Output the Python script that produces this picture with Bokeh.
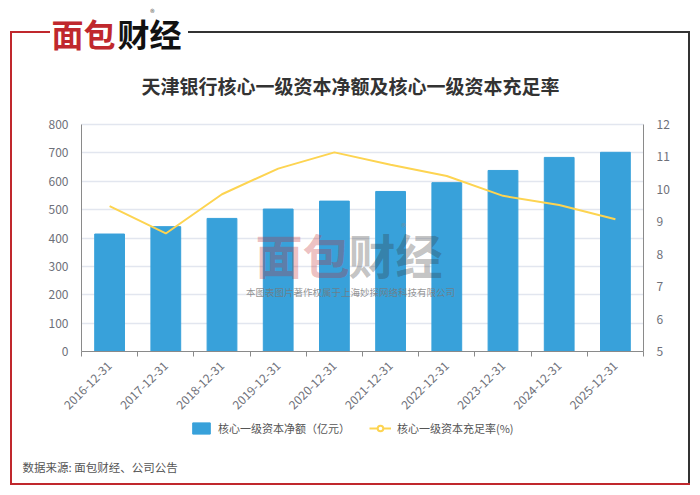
import math
from bokeh.plotting import figure
from bokeh.models import (ColumnDataSource, Range1d, LinearAxis, Label,
                          Legend, LegendItem, SingleIntervalTicker, FixedTicker)
from bokeh.embed import file_html
from bokeh.resources import INLINE

# ---------------- data ----------------
dates = ["2016-12-31", "2017-12-31", "2018-12-31", "2019-12-31", "2020-12-31",
         "2021-12-31", "2022-12-31", "2023-12-31", "2024-12-31", "2025-12-31"]
capital = [414, 440, 469, 502, 530, 564, 595, 638, 684, 702]          # 亿元
ratio = [9.48, 8.64, 9.85, 10.64, 11.14, 10.76, 10.41, 9.80, 9.52, 9.08]  # %
cap_ticks = list(range(0, 801, 100))

title_text = "天津银行核心一级资本净额及核心一级资本充足率"
bar_label = "核心一级资本净额（亿元）"
line_label = "核心一级资本充足率(%)"
source_text = "数据来源: 面包财经、公司公告"
wm_text = "本图表图片著作权属于上海妙探网络科技有限公司"

FONT = "Noto Sans CJK SC"
BAR = "#38a1da"
LINE = "#fdd451"
RED = "#c0282d"
DARK = "#333333"
AX = "#8a8a8a"
TXT = "#6e7079"

# page layout (pixels)
W, H = 700, 495
PL, PR, PT, PB = 81, 643, 124, 351     # plot area edges
n = len(dates)
xpos = list(range(n))                  # category slots

# ranges chosen so the plot area sits at PL..PR / PT..PB while the frame fills the canvas
cw = (PR - PL) / n
x_start = -0.5 - PL / cw
x_end = n - 0.5 + (W - PR) / cw
ypx = (PB - PT) / 800.0
y_start = -(H - PB) / ypx
y_end = 800 + PT / ypx
rpx = (PB - PT) / 7.0
r_start = 5 - (H - PB) / rpx
r_end = 12 + PT / rpx


def sx(cx):
    return cx


def sy(cy):
    return H - cy


src = ColumnDataSource(dict(x=xpos, d=dates, cap=capital, r=ratio))

frame_bg = ", ".join([
    f"linear-gradient({RED},{RED}) 10px 31px / 2px 454px no-repeat",
    f"linear-gradient({RED},{RED}) 10px 31px / 40px 2px no-repeat",
    f"linear-gradient({RED},{RED}) 10px 483px / 680px 2px no-repeat",
    f"linear-gradient({DARK},{DARK}) 688px 31px / 2px 454px no-repeat",
    f"linear-gradient({DARK},{DARK}) 188px 31px / 502px 2px no-repeat",
    "white",
])

p = figure(width=W, height=H, title=None,
           x_range=Range1d(x_start, x_end), y_range=Range1d(y_start, y_end),
           output_backend="svg", toolbar_location=None, min_border=0,
           styles={"background": frame_bg})
p.outline_line_color = None
p.background_fill_alpha = 0
p.border_fill_alpha = 0
p.extra_y_ranges = {"rate": Range1d(r_start, r_end)}

GRID = "#e2e6ef"
p.xgrid.visible = False
p.ygrid.ticker = FixedTicker(ticks=cap_ticks[1:])
p.ygrid.bounds = (0, 800)
p.ygrid.grid_line_color = GRID
p.ygrid.grid_line_width = 1.5
try:
    p.ygrid.cross_bounds = (-0.5, n - 0.5)
except Exception:
    p.ygrid.visible = False
    p.segment(x0=-0.5, x1=n - 0.5, y0=cap_ticks[1:], y1=cap_ticks[1:],
              line_color=GRID, line_width=1.5)

bars = p.vbar(x="x", top="cap", bottom=0, width=0.53, source=src, fill_color=BAR, line_color=BAR)
ln = p.line(x="x", y="r", source=src, y_range_name="rate", line_color=LINE, line_width=2)
mk = p.scatter(x="x", y="r", source=src, y_range_name="rate", size=11, marker="circle",
               fill_color="white", line_color=LINE, line_width=2)
mk.visible = False

# left axis (fixed at the plot-area edge)
ya = p.yaxis[0]
ya.fixed_location = -0.5
ya.bounds = (0, 800)
ya.ticker = SingleIntervalTicker(interval=100)
ya.axis_line_color = AX
ya.major_tick_line_color = None
ya.minor_tick_line_color = None
ya.major_label_text_color = TXT
ya.major_label_text_font = FONT
ya.major_label_text_font_size = "12px"
ya.major_label_standoff = 7

# right axis
raxis = LinearAxis(y_range_name="rate", ticker=SingleIntervalTicker(interval=1),
                   fixed_location=n - 0.5, bounds=(5, 12))
raxis.axis_line_color = AX
raxis.major_tick_line_color = None
raxis.minor_tick_line_color = None
raxis.major_label_text_color = TXT
raxis.major_label_text_font = FONT
raxis.major_label_text_font_size = "12px"
raxis.major_label_standoff = 7
p.add_layout(raxis, "right")

# bottom axis: labels at slot centres, tick marks at slot boundaries
xa = p.xaxis[0]
xa.fixed_location = 0
xa.bounds = (-0.5, n - 0.5)
xa.ticker = FixedTicker(ticks=xpos, minor_ticks=[i - 0.5 for i in range(n + 1)])
xa.major_label_overrides = {i: d for i, d in zip(xpos, dates)}
xa.axis_line_color = AX
xa.major_tick_line_color = None
xa.minor_tick_line_color = AX
xa.minor_tick_out = 5
xa.minor_tick_in = 0
xa.major_label_orientation = math.pi / 4
xa.major_label_text_color = TXT
xa.major_label_text_font = FONT
xa.major_label_text_font_size = "12px"
xa.major_label_standoff = 6

# legend
legend = Legend(items=[LegendItem(label=bar_label, renderers=[bars]),
                       LegendItem(label=line_label, renderers=[ln, mk])],
                orientation="horizontal", location=(sx(190), sy(438)),
                padding=0, margin=0, spacing=19, label_standoff=6,
                glyph_width=22, glyph_height=14, label_height=20,
                label_text_font=FONT, label_text_font_size="11px", label_text_color="#555555",
                background_fill_alpha=0, border_line_color=None)
p.add_layout(legend, "center")


def lab(text, cx, cy, size, color, align="left", bold=False, alpha=1.0, base="middle"):
    p.add_layout(Label(x=sx(cx), y=sy(cy), x_units="screen", y_units="screen", text=text,
                       text_font=FONT, text_font_size=size, text_color=color, text_alpha=alpha,
                       text_align=align, text_baseline=base,
                       text_font_style="bold" if bold else "normal"))


# logo
lab("面包", 51, 32, "32px", RED, bold=True)
lab("财经", 117, 32, "32px", "#111111", bold=True)
lab("®", 152, 12, "9px", "#555555", align="center")

# title
lab(title_text, 350, 85, "19px", "#333333", align="center", bold=True)

# watermark
lab("面包", 255, 253, "47px", RED, bold=True, alpha=0.3)
lab("财经", 348, 253, "47px", "#333333", bold=True, alpha=0.3)
lab("®", 403, 226, "10px", "#888888", alpha=0.6, align="center")
lab(wm_text, 350, 291, "9.5px", "#777777", align="center", alpha=0.8)

# source
lab(source_text, 22, 466, "11.5px", "#555555")

open("out.html", "w").write(file_html(p, INLINE))
